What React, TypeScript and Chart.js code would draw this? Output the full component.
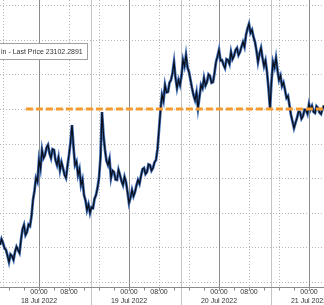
import React, { useEffect, useRef } from 'react';
import { Chart, registerables } from 'chart.js';

Chart.register(...registerables);

// Time axis: hours relative to 18 Jul 2022 00:00
const startHour = -10.4;
const stepHours = 0.4;
const xMin = -10.4;
const xMax = 76;
const yMin = 20428;
const yMax = 24575;

// Bitcoin last price (top and bottom of the jagged band)
const prices = [
  21035, 21120, 21064, 20990, 20963, 20880, 20789, 20900, 20876, 20820,
  20934, 21010, 20963, 20920, 21107, 21260, 21324, 21180, 21223, 21330,
  21309, 21450, 21685, 21820, 22003, 21950, 22263, 22140, 22408, 22290,
  22335, 22440, 22480, 22360, 22292, 22420, 22408, 22260, 22191, 22300,
  22119, 22230, 22147, 22050, 22003, 22180, 22335, 22520, 22769, 22450,
  22191, 22240, 22046, 22130, 21902, 21980, 21757, 21680, 21541, 21620,
  21497, 21580, 21569, 21700, 21757, 21860, 22003, 22300, 22957, 22620,
  22408, 22250, 22191, 22280, 22003, 22110, 22090, 21980, 21974, 22120,
  22046, 21960, 21902, 22020, 21945, 21800, 21642, 21720, 21830, 21740,
  21801, 21900, 21974, 21920, 22032, 22130, 22147, 22060, 22090, 22200,
  22191, 22110, 22147, 22230, 22263, 22420, 22697, 22980, 23202, 23120,
  23347, 23240, 23246, 23380, 23419, 23520, 23679, 23450, 23303, 23420,
  23347, 23480, 23708, 23620, 23780, 23600, 23535, 23420, 23303, 23200,
  23130, 23240, 23014, 23180, 23347, 23300, 23448, 23340, 23390, 23500,
  23477, 23380, 23390, 23520, 23679, 23760, 23853, 23700, 23708, 23640,
  23592, 23720, 23708, 23650, 23824, 23720, 23766, 23850, 23881, 23780,
  23824, 23900, 23968, 23900, 24069, 24160, 24228, 24100, 24142, 24040,
  23968, 23840, 23679, 23800, 23881, 23740, 23621, 23700, 23535, 23300,
  23014, 23400, 23679, 23600, 23737, 23560, 23419, 23480, 23332, 23380,
  23275, 23160, 23188, 23050, 22913, 22820, 22725, 22800, 22870, 22960,
  22957, 22860, 22899, 22990, 22986, 22930, 23072, 22990, 23043, 22960,
  22942, 23040, 23014, 22950, 22928, 23000, 23050,
];

const levelPrice = 23000;
const levelStartHour = -3.5;

const dayLabels = ['18 Jul 2022', '19 Jul 2022', '20 Jul 2022', '21 Jul 2022'];
const labeledHours = [0, 8, 24, 32, 48, 56, 72];
const midnightHours = [0, 24, 48, 72];
const dottedHours = [-9.6, 8, 16, 32, 40, 56, 64];
const separatorHours = [13.9, 37.9, 61.9];
const minorTickHours = [-8, -4, 0, 4, 8, 12, 16, 20, 24, 28, 32, 36, 40, 44, 48, 52, 56, 60, 64, 68, 72, 76];
const priceGridLines = [20500, 21000, 21500, 22000, 22500, 23000, 23500, 24000, 24500];
const legendText = 'in - Last Price 23102.2891';

const FONT = '"Liberation Sans", Arial, sans-serif';

const gridPlugin = {
  id: 'bbgGrid',
  beforeDatasetsDraw(chart: any) {
    const { ctx, chartArea, scales } = chart;
    const xs = scales.x;
    const ys = scales.y;
    const W = chart.width;
    const H = chart.height;
    ctx.save();
    ctx.lineWidth = 1;
    ctx.strokeStyle = '#b5b5b5';
    ctx.setLineDash([1, 2]);
    priceGridLines.forEach((p) => {
      const y = Math.round(ys.getPixelForValue(p)) + 0.5;
      ctx.beginPath();
      ctx.moveTo(0, y);
      ctx.lineTo(W, y);
      ctx.stroke();
    });
    dottedHours.forEach((h) => {
      const x = Math.round(xs.getPixelForValue(h)) + 0.5;
      ctx.beginPath();
      ctx.moveTo(x, chartArea.top);
      ctx.lineTo(x, chartArea.bottom);
      ctx.stroke();
    });
    ctx.setLineDash([]);
    ctx.strokeStyle = '#c4c4c4';
    separatorHours.forEach((h) => {
      const x = Math.round(xs.getPixelForValue(h)) + 0.5;
      ctx.beginPath();
      ctx.moveTo(x, 0);
      ctx.lineTo(x, H);
      ctx.stroke();
    });
    ctx.strokeStyle = '#8c8c8c';
    midnightHours.forEach((h) => {
      const x = Math.round(xs.getPixelForValue(h)) + 0.5;
      ctx.beginPath();
      ctx.moveTo(x, chartArea.top);
      ctx.lineTo(x, chartArea.bottom);
      ctx.stroke();
    });
    const ay = Math.round(chartArea.bottom) + 0.5;
    ctx.strokeStyle = '#8a8a8a';
    ctx.beginPath();
    ctx.moveTo(0, ay);
    ctx.lineTo(W, ay);
    ctx.stroke();
    minorTickHours.forEach((h) => {
      const x = Math.round(xs.getPixelForValue(h)) + 0.5;
      ctx.beginPath();
      ctx.moveTo(x, ay);
      ctx.lineTo(x, ay + 3);
      ctx.stroke();
    });
    ctx.restore();
  },
  afterDatasetsDraw(chart: any) {
    const { ctx } = chart;
    ctx.save();
    ctx.fillStyle = '#ffffff';
    ctx.strokeStyle = '#a0a0a0';
    ctx.lineWidth = 1;
    ctx.fillRect(-2, 43, 90, 16);
    ctx.strokeRect(-1.5, 43.5, 89, 16);
    ctx.fillStyle = '#333333';
    ctx.font = '7px ' + FONT;
    ctx.textBaseline = 'middle';
    ctx.textAlign = 'left';
    ctx.fillText(legendText, 1, 52);
    ctx.restore();
  },
};

export default function App() {
  const ref = useRef<HTMLCanvasElement | null>(null);
  useEffect(() => {
    if (!ref.current) return;
    const pricePoints = prices.map((p, i) => ({ x: startHour + i * stepHours, y: p }));
    const levelPoints = [
      { x: levelStartHour, y: levelPrice },
      { x: xMax, y: levelPrice },
    ];
    const chart = new Chart(ref.current, {
      type: 'line',
      data: {
        datasets: [
          {
            data: levelPoints,
            borderColor: '#F39B2E',
            borderWidth: 3,
            borderDash: [7, 3],
            pointRadius: 0,
            fill: false,
            order: 0,
          },
          {
            data: pricePoints,
            borderColor: '#0a0f1c',
            borderWidth: 1.3,
            pointRadius: 0,
            tension: 0,
            fill: false,
            order: 1,
          },
          {
            data: pricePoints,
            borderColor: '#3f6db5',
            borderWidth: 2.8,
            pointRadius: 0,
            tension: 0,
            fill: false,
            order: 2,
          },
        ],
      },
      options: {
        animation: false,
        responsive: false,
        devicePixelRatio: 1,
        layout: { padding: 0, autoPadding: false },
        plugins: { legend: { display: false }, tooltip: { enabled: false } },
        scales: {
          x: {
            type: 'linear',
            min: xMin,
            max: xMax,
            grid: { display: false, drawTicks: false },
            border: { display: false },
            afterBuildTicks: (scale: any) => {
              scale.ticks = labeledHours.map((v) => ({ value: v }));
            },
            afterFit: (scale: any) => {
              scale.height = 18;
              scale.paddingLeft = 0;
              scale.paddingRight = 0;
            },
            ticks: {
              autoSkip: false,
              maxRotation: 0,
              minRotation: 0,
              padding: 1,
              color: '#333333',
              font: { family: FONT, size: 7, lineHeight: 1.25 },
              callback: (v: any) => {
                const h = Number(v);
                if (h % 24 === 0) return ['00:00', dayLabels[h / 24]];
                return '08:00';
              },
            },
          },
          y: {
            display: false,
            min: yMin,
            max: yMax,
          },
        },
      },
      plugins: [gridPlugin],
    });
    return () => chart.destroy();
  }, []);
  return (
    <div style={{ position: 'absolute', left: 0, top: 0, width: 324, height: 305, background: '#fff' }}>
      <canvas ref={ref} width={324} height={305} />
    </div>
  );
}
